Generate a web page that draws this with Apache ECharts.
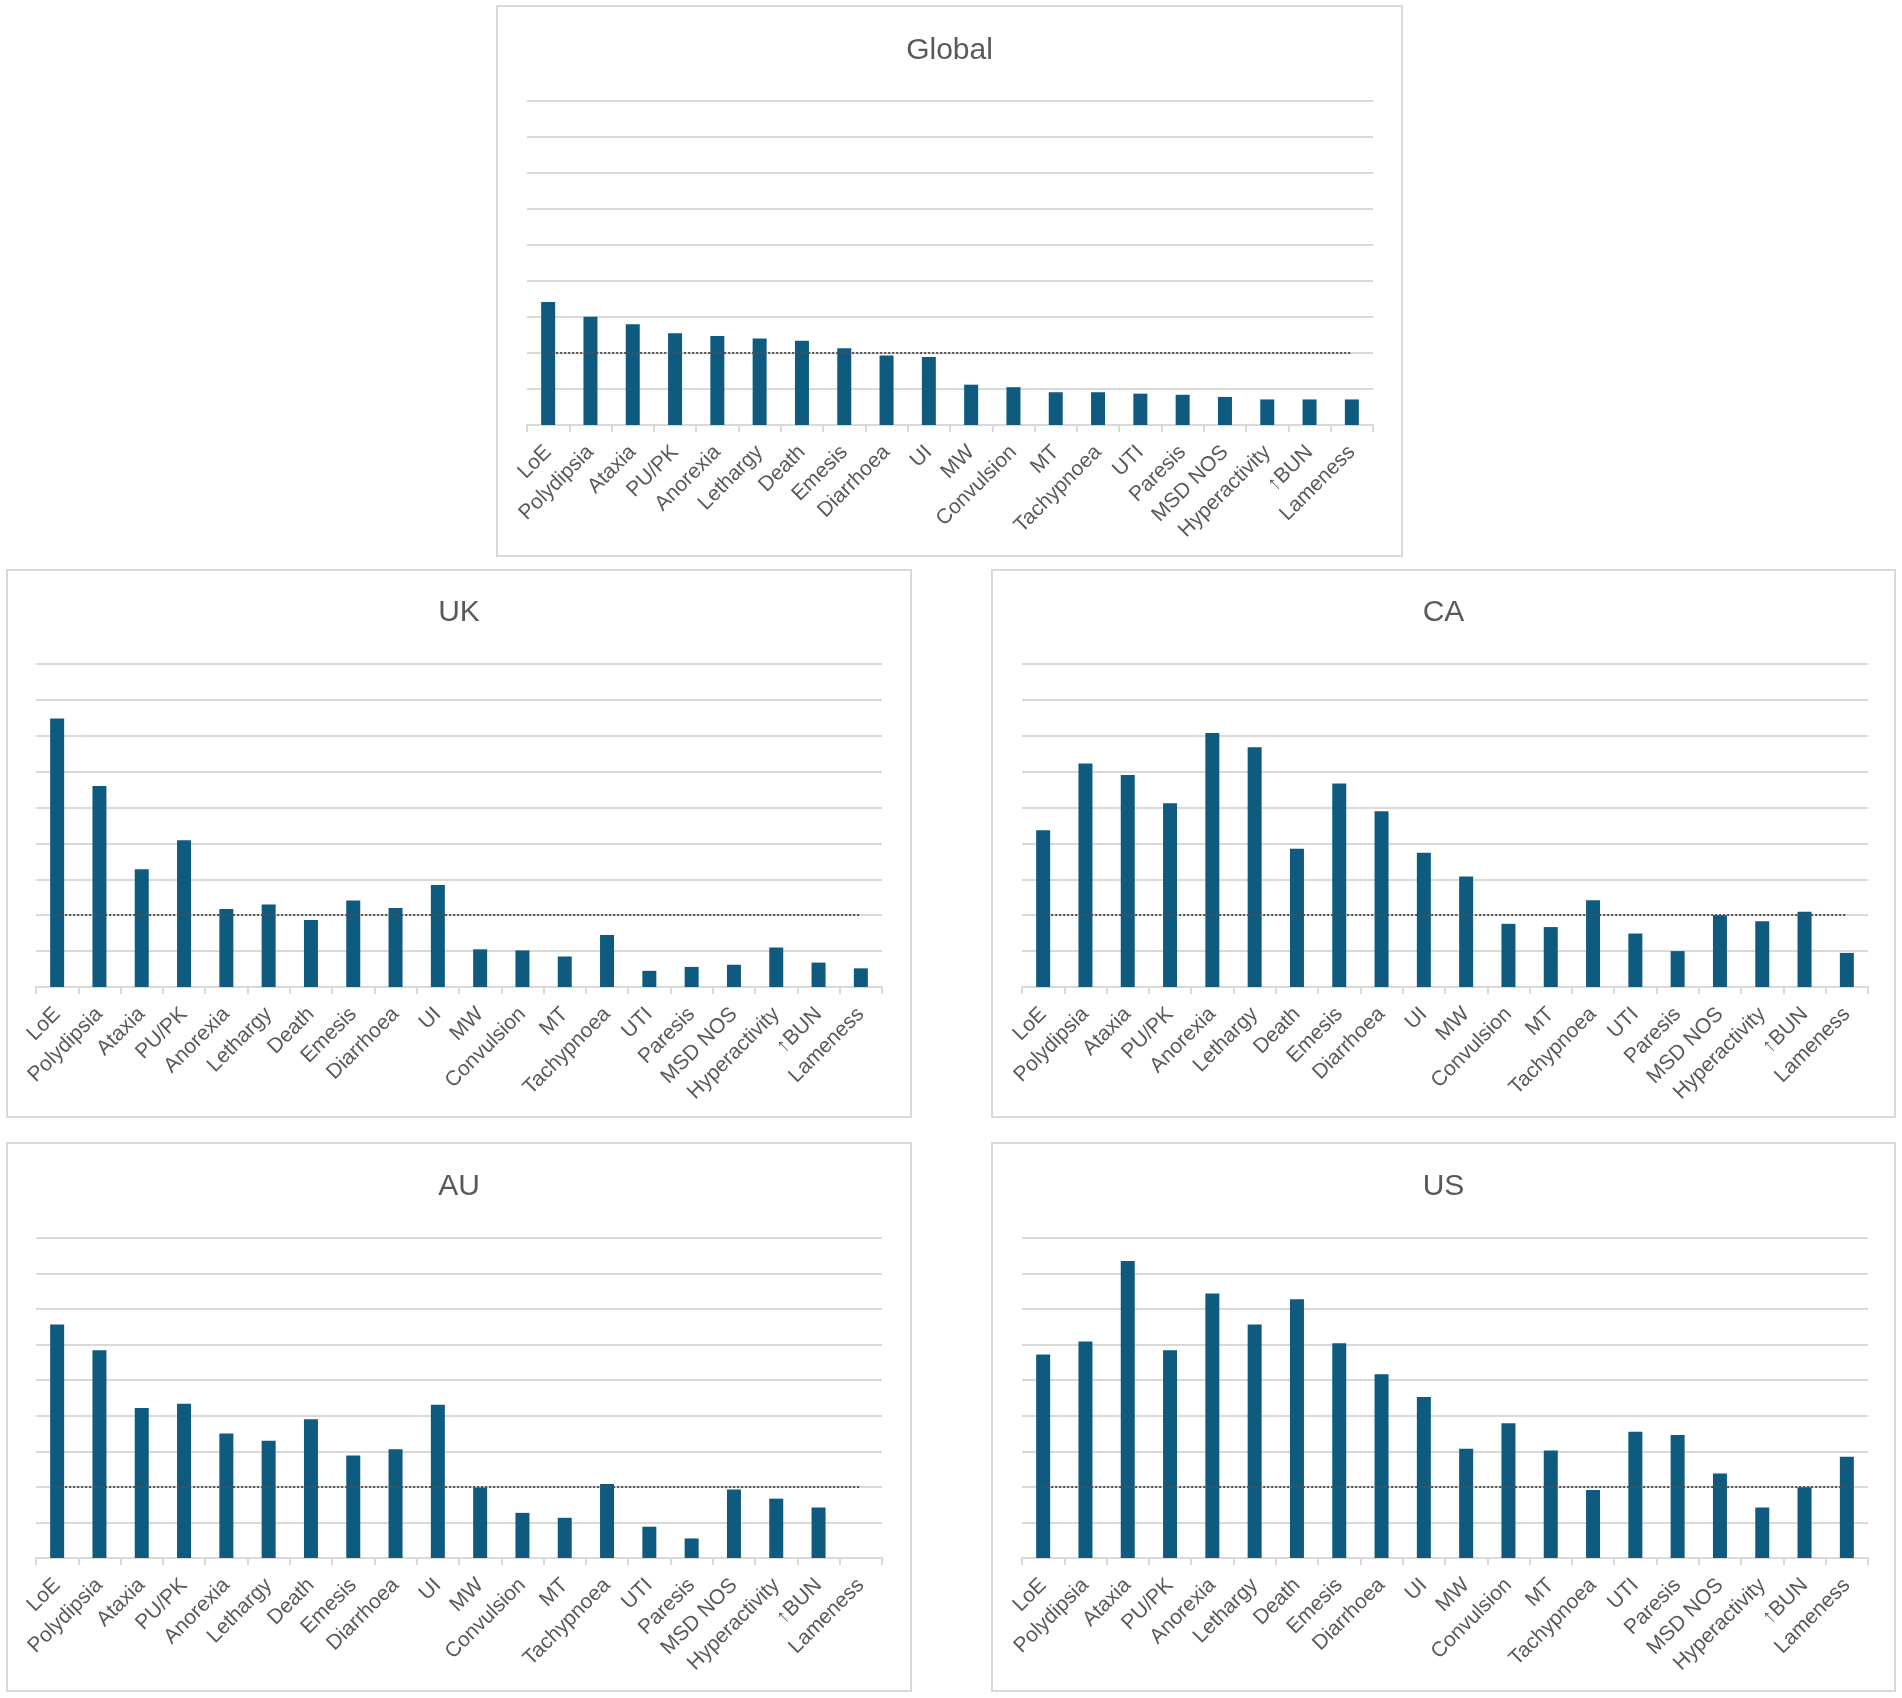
<!DOCTYPE html>
<html>
<head>
    <meta charset="utf-8">
    <title>Adverse events by region</title>
    <style>
        html, body { margin: 0; padding: 0; background: #ffffff; }
        #main { width: 1902px; height: 1698px; }
    </style>
</head>
<body>
<div id="main"></div>
<script src="https://cdn.jsdelivr.net/npm/echarts@6/dist/echarts.min.js"></script>
<script type="text/javascript">
    // categories, same order in every panel
    var categories = ['LoE', 'Polydipsia', 'Ataxia', 'PU/PK', 'Anorexia', 'Lethargy', 'Death', 'Emesis',
        'Diarrhoea', 'UI', 'MW', 'Convulsion', 'MT', 'Tachypnoea', 'UTI', 'Paresis', 'MSD NOS',
        'Hyperactivity', '\u2191BUN', 'Lameness'];

    // values, in gridline units
    var globalValues = [3.42, 3.01, 2.8, 2.55, 2.47, 2.4, 2.34, 2.13, 1.93, 1.89, 1.12, 1.05, 0.91, 0.91, 0.87, 0.84, 0.78, 0.71, 0.71, 0.71];
    var ukValues = [7.48, 5.6, 3.28, 4.09, 2.17, 2.3, 1.87, 2.41, 2.2, 2.84, 1.05, 1.02, 0.85, 1.45, 0.45, 0.56, 0.62, 1.1, 0.68, 0.52];
    var caValues = [4.37, 6.23, 5.91, 5.12, 7.08, 6.68, 3.85, 5.67, 4.9, 3.74, 3.08, 1.76, 1.67, 2.42, 1.49, 1.0, 2.0, 1.83, 2.1, 0.95];
    var auValues = [6.57, 5.84, 4.22, 4.34, 3.5, 3.3, 3.9, 2.88, 3.06, 4.31, 1.98, 1.27, 1.13, 2.08, 0.88, 0.55, 1.93, 1.67, 1.42, 0];
    var usValues = [5.72, 6.09, 8.35, 5.84, 7.44, 6.57, 7.28, 6.04, 5.17, 4.53, 3.07, 3.79, 3.02, 1.91, 3.55, 3.46, 2.38, 1.42, 1.99, 2.85];

    var yMax = 9;
    var refLevel = 2;

    // layout of the five panels (frame and plot area, px)
    var panels = [
        { name: 'Global', values: globalValues, frame: [497, 6, 905, 550], plot: [527, 101, 846, 324], titleTop: 31 },
        { name: 'UK', values: ukValues, frame: [7, 570, 904, 547], plot: [36, 664, 846, 323], titleTop: 593 },
        { name: 'CA', values: caValues, frame: [992, 570, 903, 547], plot: [1022, 664, 846, 323], titleTop: 593 },
        { name: 'AU', values: auValues, frame: [7, 1143, 904, 548], plot: [36, 1238, 846, 320], titleTop: 1167 },
        { name: 'US', values: usValues, frame: [992, 1143, 903, 548], plot: [1022, 1238, 846, 320], titleTop: 1167 }
    ];

    var textColor = '#595959';
    var lineColor = '#d9d9d9';
    var barColor = '#0f5b7f';
    var font = 'Liberation Sans, Arial, sans-serif';

    var option = {
        backgroundColor: '#ffffff',
        animation: false,
        title: [],
        grid: [],
        xAxis: [],
        yAxis: [],
        series: [],
        graphic: []
    };

    panels.forEach(function (p, i) {
        option.graphic.push({
            type: 'rect',
            silent: true,
            shape: { x: p.frame[0], y: p.frame[1], width: p.frame[2], height: p.frame[3] },
            style: { fill: 'none', stroke: lineColor, lineWidth: 2 }
        });
        option.title.push({
            text: p.name,
            left: p.frame[0] + p.frame[2] / 2 - 5,
            textAlign: 'center',
            top: p.titleTop,
            textStyle: { color: textColor, fontSize: 30, fontWeight: 'normal', fontFamily: font }
        });
        option.grid.push({
            left: p.plot[0], top: p.plot[1], width: p.plot[2], height: p.plot[3],
            containLabel: false
        });
        option.xAxis.push({
            type: 'category',
            gridIndex: i,
            data: categories,
            axisLine: { lineStyle: { color: lineColor, width: 2 } },
            axisTick: { show: true, length: 7, lineStyle: { color: lineColor, width: 2 } },
            axisLabel: {
                interval: 0, rotate: 45, margin: 24,
                color: textColor, fontSize: 21, fontFamily: font
            }
        });
        option.yAxis.push({
            type: 'value',
            gridIndex: i,
            min: 0, max: yMax, interval: 1,
            axisLabel: { show: false },
            axisLine: { show: false },
            axisTick: { show: false },
            splitLine: { lineStyle: { color: lineColor, width: 2 } }
        });
        option.series.push({
            type: 'bar',
            name: p.name,
            xAxisIndex: i,
            yAxisIndex: i,
            data: p.values,
            barWidth: 14,
            itemStyle: { color: barColor },
            markLine: {
                silent: true,
                symbol: 'none',
                label: { show: false },
                lineStyle: { color: '#505050', width: 2, type: 'dotted' },
                data: [[
                    { coord: [categories[0], refLevel] },
                    { coord: [categories[categories.length - 1], refLevel] }
                ]]
            }
        });
    });

    var myChart = echarts.init(document.getElementById('main'));
    myChart.setOption(option);
</script>
</body>
</html>
